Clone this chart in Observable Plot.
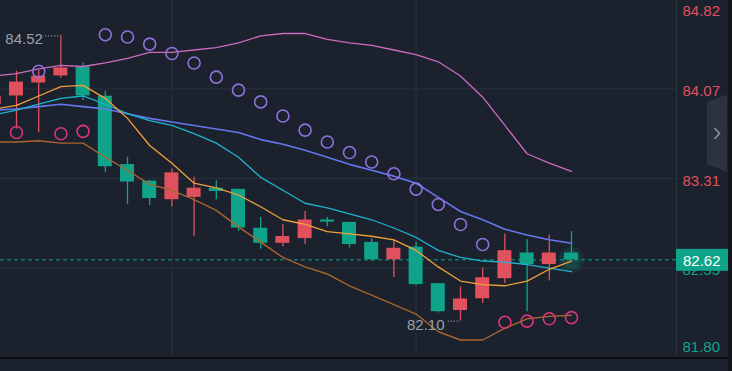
<!DOCTYPE html>
<html><head><meta charset="utf-8">
<script src="https://cdn.jsdelivr.net/npm/d3@7"></script>
<script src="https://cdn.jsdelivr.net/npm/@observablehq/plot@0.6"></script>
<style>
html,body{margin:0;padding:0;background:#1b212d;}
#chart{width:732px;height:371px;overflow:hidden;}
svg{display:block}
</style></head><body><div id="chart"></div>
<script>
// candle index (-1 is the partly hidden bar at the left edge)
const idx   = [-1,0,1,2,3,4,5,6,7,8,9,10,11,12,13,14,15,16,17,18,19,20,21,22,23,24,25];
const open  = [83.94,84.01,84.12,84.18,84.25,84.00,83.42,83.28,83.13,83.15,83.22,83.21,82.88,82.76,82.80,82.95,82.93,82.76,82.62,82.72,82.41,82.19,82.29,82.46,82.67,82.58,82.67];
const high  = [84.05,84.22,84.23,84.52,84.29,84.05,83.49,83.29,83.39,83.32,83.29,83.22,82.98,82.92,83.03,82.98,82.93,82.80,82.79,82.77,82.42,82.39,82.55,82.84,82.79,82.83,82.86];
const low   = [83.90,83.73,83.70,84.16,83.97,83.36,83.09,83.08,83.07,82.82,83.13,82.86,82.71,82.73,82.75,82.90,82.72,82.61,82.47,82.40,82.17,82.10,82.25,82.42,82.18,82.44,82.62];
const close = [84.00,84.12,84.17,84.24,84.01,83.41,83.28,83.14,83.35,83.22,83.20,82.89,82.76,82.81,82.95,82.94,82.75,82.62,82.71,82.41,82.18,82.28,82.46,82.69,82.58,82.67,82.62];

const bandUpper = [84.18,84.20,84.24,84.27,84.26,84.29,84.33,84.38,84.38,84.40,84.42,84.46,84.52,84.54,84.54,84.49,84.46,84.44,84.40,84.36,84.30,84.18,84.00,83.76,83.52,83.44,83.37];
const maSlow    = [83.89,83.90,83.92,83.94,83.92,83.90,83.86,83.82,83.79,83.76,83.73,83.70,83.64,83.60,83.55,83.49,83.43,83.38,83.33,83.27,83.15,83.03,82.96,82.88,82.83,82.79,82.76];
const maMid     = [83.85,83.89,83.94,83.99,84.01,83.94,83.86,83.80,83.76,83.69,83.61,83.49,83.32,83.21,83.10,83.06,83.01,82.96,82.89,82.81,82.70,82.64,82.61,82.60,82.58,82.55,82.52];
const maFast    = [83.90,83.93,84.01,84.09,84.10,83.99,83.82,83.59,83.44,83.27,83.23,83.17,83.07,82.96,82.92,82.86,82.84,82.82,82.79,82.70,82.56,82.44,82.41,82.40,82.44,82.54,82.61];
const bandLower = [83.62,83.62,83.63,83.61,83.61,83.49,83.38,83.26,83.21,83.13,83.04,82.90,82.77,82.64,82.56,82.50,82.40,82.32,82.24,82.16,82.01,81.94,81.94,82.04,82.12,82.14,82.15];

const sarUpIdx = [1,4,5,6,7,8,9,10,11,12,13,14,15,16,17,18,19,20,21];
const sarUpVal = [84.22,84.53,84.51,84.45,84.37,84.29,84.17,84.06,83.96,83.84,83.72,83.62,83.53,83.45,83.35,83.22,83.09,82.92,82.75];
const sarDnIdx = [0,2,3,22,23,24,25];
const sarDnVal = [83.70,83.69,83.71,82.09,82.10,82.12,82.13];

const axisTicks = [84.82,84.07,83.31,82.55,81.80];
const gridTicks = [84.07,83.31,82.55];
const vGridIdx  = [7,18];
const lastPrice = 82.62;
const hiLabel = {i:2, v:84.52, text:"84.52"};
const loLabel = {i:20, v:82.10, text:"82.10"};

const BG="#1b212d", GRID="#272e3b", RED="#e1505d", GREEN="#0fa48a", LABEL="#9ba1aa";
const W=732, H=371, MR=56, MB=15;
const xDomain=[-0.7207, 29.73];
const yDomain=[81.80, 84.82];
const half=0.315;
const FONT="Liberation Sans, Arial, sans-serif";

const candles = idx.map((i,k)=>({i, o:open[k], h:high[k], l:low[k], c:close[k], col: close[k]>=open[k]?RED:GREEN}));
const series = vals => idx.map((i,k)=>({i, v:vals[k]}));
const sarUp = sarUpIdx.map((i,k)=>({i, v:sarUpVal[k]}));
const sarDn = sarDnIdx.map((i,k)=>({i, v:sarDnVal[k]}));
const tickCol = v => v > lastPrice ? RED : GREEN;
const lineMark = (vals, color, w) => Plot.line(series(vals), {x:"i", y:"v", stroke:color, strokeWidth:w, clip:true});

const chart = Plot.plot({
  width:W, height:H, marginLeft:0, marginRight:MR, marginTop:0, marginBottom:MB,
  style:{background:BG, fontFamily:FONT},
  x:{domain:xDomain, axis:null},
  y:{domain:yDomain, axis:null},
  marks:[
    Plot.ruleY(gridTicks, {stroke:GRID, strokeWidth:1.3}),
    Plot.ruleX(vGridIdx, {stroke:GRID, strokeWidth:1.3}),
    Plot.ruleX([xDomain[1]], {stroke:"#2a313d", strokeWidth:1.3}),
    Plot.ruleY([lastPrice], {stroke:GREEN, strokeDasharray:"4,3", strokeWidth:1}),
    Plot.ruleX(candles, {x:"i", y1:"l", y2:"h", stroke:"col", strokeWidth:1.3, clip:true}),
    Plot.rect(candles, {x1:d=>d.i-half, x2:d=>d.i+half, y1:d=>Math.min(d.o,d.c), y2:d=>Math.max(d.o,d.c)+0.008, fill:"col", clip:true}),
    Plot.dot([{i:25, v:lastPrice}], {x:"i", y:"v", r:13, fill:GREEN, fillOpacity:0.12}),
    Plot.dot([{i:25, v:lastPrice}], {x:"i", y:"v", r:9, fill:GREEN, fillOpacity:0.18}),
    lineMark(bandUpper, "#cc6bbf", 1.3),
    lineMark(maSlow, "#6677ee", 1.6),
    lineMark(maMid, "#1db4cc", 1.3),
    lineMark(maFast, "#f2a03a", 1.3),
    lineMark(bandLower, "#a9652e", 1.4),
    Plot.dot(sarUp, {x:"i", y:"v", r:6, stroke:"#8e72dc", strokeWidth:1.6, fill:"none"}),
    Plot.dot(sarDn, {x:"i", y:"v", r:6, stroke:"#d9357d", strokeWidth:1.6, fill:"none"}),
    // high / low annotations
    Plot.ruleY([hiLabel], {y:"v", x1:d=>d.i-0.68, x2:d=>d.i, stroke:LABEL, strokeDasharray:"1,2", strokeWidth:1.2}),
    Plot.text([hiLabel], {x:"i", y:"v", text:"text", textAnchor:"end", dx:-18, dy:3, fill:LABEL, fontSize:15}),
    Plot.ruleY([loLabel], {y:"v", x1:d=>d.i-0.55, x2:d=>d.i, stroke:LABEL, strokeDasharray:"1,2", strokeWidth:1.2}),
    Plot.text([loLabel], {x:"i", y:"v", text:"text", textAnchor:"end", dx:-16, dy:4, fill:LABEL, fontSize:15}),
    // price axis labels
    Plot.text(axisTicks.slice(1,4), {y:d=>d, text:d=>d.toFixed(2), frameAnchor:"right", dx:6, dy:2.5, textAnchor:"start", fill:tickCol, fontSize:15}),
    Plot.text([axisTicks[0]], {y:d=>d, text:d=>d.toFixed(2), frameAnchor:"right", dx:6, dy:10.5, textAnchor:"start", fill:tickCol, fontSize:15}),
    Plot.text([axisTicks[4]], {y:d=>d, text:d=>d.toFixed(2), frameAnchor:"right", dx:6, dy:-9, textAnchor:"start", fill:tickCol, fontSize:15})
  ]
});
document.getElementById("chart").appendChild(chart);

// overlay: current price tag, side tab, bottom border
const svg = d3.select(chart);
let yS;
try { yS = chart.scale("y").apply; } catch(e) {}
if (typeof yS !== "function") { const s = d3.scaleLinear(yDomain, [H-MB, 0]); yS = v => s(v); }
const py = yS(lastPrice);
const plotRight = W - MR;
svg.append("rect").attr("x", plotRight).attr("y", py-10.5).attr("width", 52).attr("height", 22).attr("fill", GREEN);
svg.append("text").attr("x", plotRight+7).attr("y", py+1).attr("dy","0.35em").attr("fill","#ffffff")
  .attr("text-anchor","start").attr("font-family", FONT).attr("font-size", 15).text(lastPrice.toFixed(2));
svg.append("rect").attr("x", 728).attr("y", 0).attr("width", 4).attr("height", H).attr("fill", "#11151c");
svg.append("path").attr("d","M707,102 L727,94.5 L727,172 L707,164 Z").attr("fill","#2d333e");
svg.append("path").attr("d","M714.5,128 L719.5,133.5 L714.5,139").attr("fill","none").attr("stroke","#8b919b").attr("stroke-width",1.6);
svg.append("rect").attr("x", 0).attr("y", H-MB+1.5).attr("width", 728).attr("height", 1.5).attr("fill", "#07090c");
</script>
</body></html>
